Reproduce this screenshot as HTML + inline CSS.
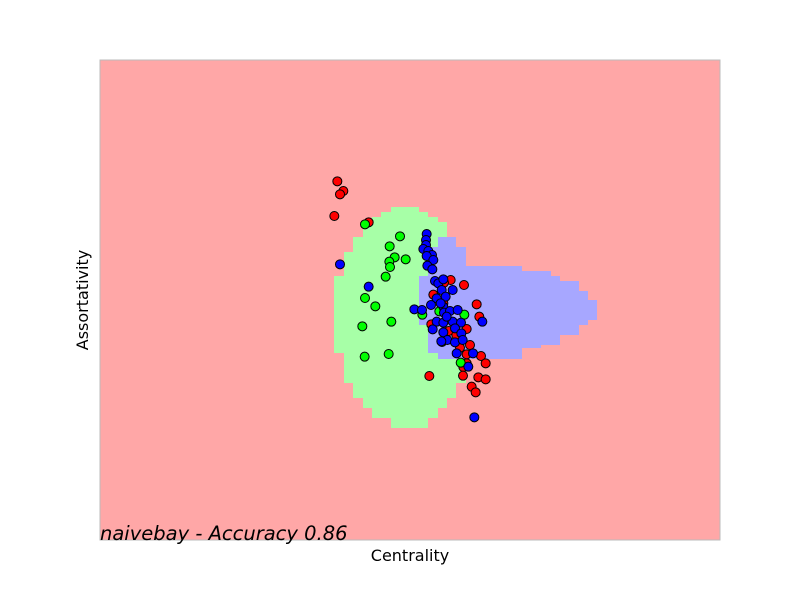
<!DOCTYPE html>
<html><head><meta charset="utf-8"><style>
body{margin:0;background:#fff;}
svg{display:block;font-family:"DejaVu Sans",sans-serif;}
</style></head><body>
<svg width="800" height="600" xmlns="http://www.w3.org/2000/svg">
<rect x="100" y="60" width="620" height="480" fill="#ffa7a7"/>
<polygon fill="#a7ffa7" points="391,207 419,207 419,212 428,212 428,217 438,217 438,222 447,222 447,353 466,353 466,383 456,383 456,398 447,398 447,408 438,408 438,418 428,418 428,428 391,428 391,418 372,418 372,408 363,408 363,398 353,398 353,383 344,383 344,353 334,353 334,276 344,276 344,252 353,252 353,237 363,237 363,222 372,222 372,217 381,217 381,212 391,212"/>
<polygon fill="#a7a7ff" points="438,237 456,237 456,247 466,247 466,266 522,266 522,271 551,271 551,276 560,276 560,281 579,281 579,291 588,291 588,300 597,300 597,320 588,320 588,325 579,325 579,335 560,335 560,345 541,345 541,348 522,348 522,359 438,359 438,353 428,353 428,325 419,325 419,276 428,276 428,247 438,247"/>
<rect x="100" y="60" width="620" height="480" fill="none" stroke="#bbb" stroke-width="1"/>
<g id="points"></g>
<text x="100" y="540" font-size="19.5" font-style="italic" fill="#000">naivebay - Accuracy 0.86</text>
<text x="410" y="561" font-size="16" text-anchor="middle">Centrality</text>
<text x="88" y="300" font-size="16" text-anchor="middle" transform="rotate(-90 88 300)">Assortativity</text>
</svg>
<script>
const redX=[52,70,60,43,146,392,432,372,340,470,478,334,440,386,409,450,420,440,483,497,440,430,328,429,475,497,455,467,370];
const redY=[34,63,73,138,157,330,345,338,374,403,440,463,477,483,495,525,533,553,558,580,580,591,618,617,622,628,650,667,400];
const greenX=[135,240,209,224,257,208,210,197,135,166,214,127,134,206,307,358,433,366,422];
const greenY=[163,199,229,262,268,275,291,320,384,409,455,469,560,552,434,424,434,516,578];
const blueX=[320,318,318,310,325,336,320,340,322,337,60,146,345,355,370,365,398,377,350,283,306,333,370,372,390,413,350,370,398,423,338,370,405,424,382,405,428,364,410,459,445,487,463,362,380];
const blueY=[192,210,225,237,243,255,258,270,287,298,283,350,333,340,328,360,360,380,385,418,420,405,410,428,423,420,455,458,455,458,478,487,475,490,510,517,510,514,550,550,590,455,742,400,440];
const xDomain=[-660,1200], yDomain=[-330,1110];
function xs(v){return 100+(v-xDomain[0])/(xDomain[1]-xDomain[0])*620;}
function ys(v){return 60+(v-yDomain[0])/(yDomain[1]-yDomain[0])*480;}
const g=document.getElementById('points');
function draw(X,Y,color,name){
  for(let i=0;i<X.length;i++){
    const c=document.createElementNS('http://www.w3.org/2000/svg','circle');
    c.setAttribute('cx',xs(X[i]));c.setAttribute('cy',ys(Y[i]));
    c.setAttribute('r',4.5);c.setAttribute('fill',color);
    c.setAttribute('stroke','#000');c.setAttribute('stroke-width','1');
    
    
    g.appendChild(c);
  }
}
draw(redX,redY,'#ff0000','red-point');
draw(greenX,greenY,'#00ff00','green-point');
draw(blueX,blueY,'#0000ff','blue-point');
</script>
</body></html>
